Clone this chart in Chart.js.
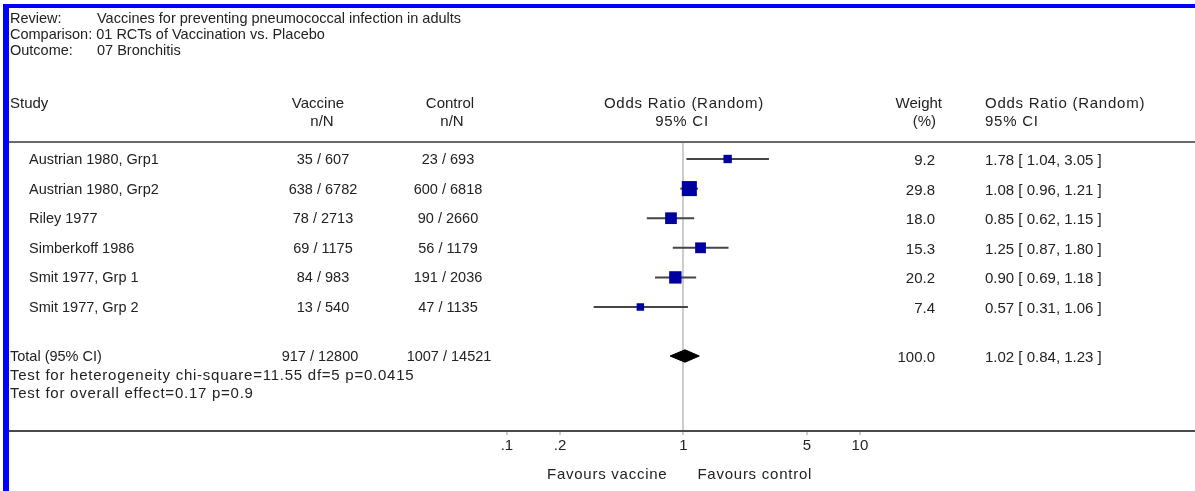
<!DOCTYPE html>
<html>
<head>
<meta charset="utf-8">
<script src="https://cdn.jsdelivr.net/npm/chart.js@4.4.1/dist/chart.umd.min.js"></script>
<style>
html,body{margin:0;padding:0;background:#fff}
#wrap{position:relative;width:1195px;height:491px;overflow:hidden;font-family:"Liberation Sans",Arial,sans-serif;font-size:15px;color:#222}
#wrap canvas{position:absolute;left:0;top:0}
.t{position:absolute;white-space:nowrap;line-height:1;transform:translate(0,-50%)}
.t.c{transform:translate(-50%,-50%)}
.t.r{transform:translate(-100%,-50%)}
.t.n{font-size:14.5px}
.t.w{letter-spacing:0.75px}
#frameTop{position:absolute;left:3px;top:4px;width:1192px;height:4px;background:#0000ff}
#frameLeft{position:absolute;left:3px;top:4px;width:6px;height:487px;background:#0000ff}
</style>
</head>
<body>
<div id="wrap">
  <canvas id="forest" width="1195" height="491"></canvas>
  <div id="frameTop"></div>
  <div id="frameLeft"></div>
</div>
<script>
// ---- data ----
const studies = ['Austrian 1980, Grp1','Austrian 1980, Grp2','Riley 1977','Simberkoff 1986','Smit 1977, Grp 1','Smit 1977, Grp 2']
const vacEvents = [35,638,78,69,84,13]
const vacTotal = [607,6782,2713,1175,983,540]
const ctlEvents = [23,600,90,56,191,47]
const ctlTotal = [693,6818,2660,1179,2036,1135]
const weights = [9.2,29.8,18.0,15.3,20.2,7.4]
const oddsRatio = [1.78,1.08,0.85,1.25,0.90,0.57]
const ciLow = [1.04,0.96,0.62,0.87,0.69,0.31]
const ciHigh = [3.05,1.21,1.15,1.80,1.18,1.06]
const totalVac = [917,12800]
const totalCtl = [1007,14521]
const totalWeight = 100.0
const totalOR = [1.02,0.84,1.23]
const heterogeneity = {chi2:11.55, df:5, p:0.0415}
const overallEffect = {z:0.17, p:0.9}
const tickValues = [0.1,0.2,1,5,10]
const tickLabels = ['.1','.2','1','5','10']

// ---- layout constants ----
const TOTAL_ROW = 6.655
const DIAMOND_HALF = 0.21
const FONT = '"Liberation Sans", Arial, sans-serif'

function qs(sel, root=document){return root.querySelector(sel)}
const wrap = qs('#wrap')
function put(text, x, y, cls=''){
  const d = document.createElement('div')
  d.className = 't ' + cls
  d.textContent = text
  d.style.left = x + 'px'
  d.style.top = y + 'px'
  wrap.appendChild(d)
  return d
}

/* -------------------- datasets -------------------- */
const ciSets = studies.map((s,i)=>({
  label: s,
  data: [{x:ciLow[i], y:i},{x:ciHigh[i], y:i}],
  showLine: true, borderColor:'#454545', borderWidth:2, pointRadius:0, order:2
}))
const boxSet = {
  label: 'OR',
  data: studies.map((s,i)=>({x:oddsRatio[i], y:i})),
  pointStyle: 'rect',
  pointRadius: weights.map(w => 1.95*Math.sqrt(w)),
  backgroundColor: '#0000a0', borderWidth: 0, order: 1
}
const diamondSet = {
  label: 'Total',
  data: [
    {x:totalOR[1], y:TOTAL_ROW},
    {x:totalOR[0], y:TOTAL_ROW - DIAMOND_HALF},
    {x:totalOR[2], y:TOTAL_ROW},
    {x:totalOR[0], y:TOTAL_ROW + DIAMOND_HALF},
    {x:totalOR[1], y:TOTAL_ROW}
  ],
  showLine: true, fill: 'shape', backgroundColor:'#000', borderColor:'#000', borderWidth:1, pointRadius:0, order:0
}

const chart = new Chart(qs('#forest'), {
  type: 'scatter',
  data: { datasets: [diamondSet, boxSet, ...ciSets] },
  options: {
    responsive: false,
    animation: false,
    events: [],
    layout: { autoPadding: false, padding: { left: 10, right: 0, top: 142, bottom: 0 } },
    plugins: { legend: {display:false}, tooltip: {enabled:false} },
    scales: {
      x: {
        type: 'logarithmic', position: 'bottom', bounds: 'data',
        min: 1.53e-4, max: 791,
        afterBuildTicks: s => { s.ticks = tickValues.map(v => ({value:v})) },
        afterFit: s => { s.height = 60; s.paddingLeft = 0; s.paddingRight = 0 },
        ticks: {
          autoSkip:false, maxRotation:0, minRotation:0, padding:2,
          color:'#222', font:{family:FONT, size:15},
          callback: v => { const k = tickValues.indexOf(v); return k < 0 ? '' : tickLabels[k] }
        },
        grid: {
          drawOnChartArea: true, drawTicks: true, tickLength: 4, lineWidth: 2,
          color: c => (c.tick && c.tick.value === 1) ? '#cdcdcd' : 'rgba(0,0,0,0)',
          tickColor: '#999', tickWidth: 1
        },
        border: { display:true, color:'#4a4a4a', width:2 }
      },
      x2: {
        type: 'linear', position: 'top', min: 0, max: 1,
        afterFit: s => { s.height = 0; s.paddingLeft = 0; s.paddingRight = 0 },
        ticks: { display:false },
        grid: { drawTicks:false, color:'rgba(0,0,0,0)' },
        border: { display:true, color:'#6a6a6a', width:2 }
      },
      y: {
        type: 'linear', display: false, reverse: true,
        min: -0.574, max: 9.189
      }
    }
  }
})

/* -------------------- table text -------------------- */
put('Review:', 10, 18, 'n'); put('Vaccines for preventing pneumococcal infection in adults', 97, 18, 'n')
put('Comparison: 01 RCTs of Vaccination vs. Placebo', 10, 34, 'n')
put('Outcome:', 10, 50, 'n'); put('07 Bronchitis', 97, 50, 'n')

put('Study', 10, 102)
put('Vaccine', 318, 102, 'c'); put('n/N', 322, 120, 'c')
put('Control', 450, 102, 'c'); put('n/N', 452, 120, 'c')
put('Odds Ratio (Random)', 684, 102, 'c w'); put('95% CI', 682, 120, 'c w')
put('Weight', 942, 102, 'r'); put('(%)', 936, 120, 'r')
put('Odds Ratio (Random)', 985, 102, 'w'); put('95% CI', 985, 120, 'w')

const yScale = chart.scales.y
const f2 = v => v.toFixed(2)
studies.forEach((s,i)=>{
  const y = yScale.getPixelForValue(i)
  put(s, 29, y, 'n')
  put(`${vacEvents[i]} / ${vacTotal[i]}`, 323, y, 'c n')
  put(`${ctlEvents[i]} / ${ctlTotal[i]}`, 448, y, 'c n')
  put(weights[i].toFixed(1), 935, y, 'r')
  put(`${f2(oddsRatio[i])} [ ${f2(ciLow[i])}, ${f2(ciHigh[i])} ]`, 985, y)
})
const yt = yScale.getPixelForValue(TOTAL_ROW)
put('Total (95% CI)', 10, yt, 'n')
put(`${totalVac[0]} / ${totalVac[1]}`, 320, yt, 'c n')
put(`${totalCtl[0]} / ${totalCtl[1]}`, 449, yt, 'c n')
put(totalWeight.toFixed(1), 935, yt, 'r')
put(`${f2(totalOR[0])} [ ${f2(totalOR[1])}, ${f2(totalOR[2])} ]`, 985, yt)
put(`Test for heterogeneity chi-square=${heterogeneity.chi2} df=${heterogeneity.df} p=${heterogeneity.p}`, 10, yt + 18, 'w')
put(`Test for overall effect=${overallEffect.z} p=${overallEffect.p}`, 10, yt + 36, 'w')

const xScale = chart.scales.x
put('Favours vaccine', xScale.getPixelForValue(1) - 16, 473, 'r w')
put('Favours control', xScale.getPixelForValue(1) + 14, 473, 'w')
</script>
</body>
</html>
